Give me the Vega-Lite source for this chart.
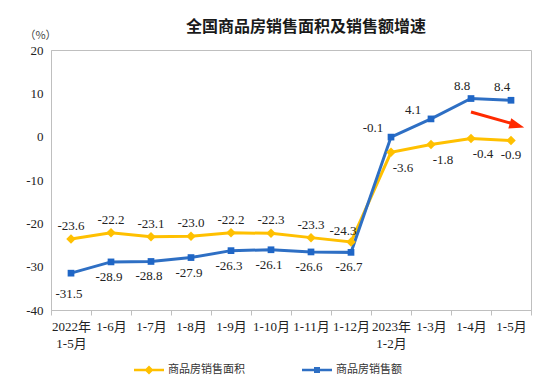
{
  "$schema": "https://vega.github.io/schema/vega-lite/v6.json",
  "width": 480,
  "height": 260,
  "autosize": {"type": "none"},
  "padding": {"left": 51, "top": 50, "right": 23, "bottom": 74},
  "background": "white",
  "title": {
    "text": "全国商品房销售面积及销售额增速",
    "font": "Noto Sans CJK SC",
    "fontSize": 16,
    "fontWeight": "bold",
    "color": "#1a1a1a",
    "anchor": "middle",
    "dx": 15,
    "dy": 14,
    "offset": 8
  },
  "config": {
    "locale": {"number": {"decimal": ".", "thousands": ",", "grouping": [3], "currency": ["", ""], "minus": "-"}},
    "view": {"stroke": "#BFBFBF", "strokeWidth": 1},
    "axis": {
      "domainColor": "#BFBFBF",
      "tickColor": "#BFBFBF",
      "grid": false,
      "labelFont": "Liberation Serif, Noto Sans CJK SC",
      "labelFontSize": 13,
      "labelColor": "#222222"
    },
    "legend": {
      "orient": "none",
      "legendX": 83,
      "legendY": 305,
      "direction": "horizontal",
      "padding": 0,
      "columnPadding": 57,
      "symbolOpacity": 1,
      "symbolSize": 900,
      "symbolStrokeWidth": 0,
      "labelFont": "Noto Sans CJK SC",
      "labelFontSize": 11,
      "labelColor": "#333333",
      "labelOffset": 4
    }
  },
  "datasets": {
    "main": [
      {"month": "2022年 1-5月", "series": "商品房销售面积", "value": -23.6},
      {"month": "1-6月", "series": "商品房销售面积", "value": -22.2},
      {"month": "1-7月", "series": "商品房销售面积", "value": -23.1},
      {"month": "1-8月", "series": "商品房销售面积", "value": -23.0},
      {"month": "1-9月", "series": "商品房销售面积", "value": -22.2},
      {"month": "1-10月", "series": "商品房销售面积", "value": -22.3},
      {"month": "1-11月", "series": "商品房销售面积", "value": -23.3},
      {"month": "1-12月", "series": "商品房销售面积", "value": -24.3},
      {"month": "2023年 1-2月", "series": "商品房销售面积", "value": -3.6},
      {"month": "1-3月", "series": "商品房销售面积", "value": -1.8},
      {"month": "1-4月", "series": "商品房销售面积", "value": -0.4},
      {"month": "1-5月", "series": "商品房销售面积", "value": -0.9},
      {"month": "2022年 1-5月", "series": "商品房销售额", "value": -31.5},
      {"month": "1-6月", "series": "商品房销售额", "value": -28.9},
      {"month": "1-7月", "series": "商品房销售额", "value": -28.8},
      {"month": "1-8月", "series": "商品房销售额", "value": -27.9},
      {"month": "1-9月", "series": "商品房销售额", "value": -26.3},
      {"month": "1-10月", "series": "商品房销售额", "value": -26.1},
      {"month": "1-11月", "series": "商品房销售额", "value": -26.6},
      {"month": "1-12月", "series": "商品房销售额", "value": -26.7},
      {"month": "2023年 1-2月", "series": "商品房销售额", "value": -0.1},
      {"month": "1-3月", "series": "商品房销售额", "value": 4.1},
      {"month": "1-4月", "series": "商品房销售额", "value": 8.8},
      {"month": "1-5月", "series": "商品房销售额", "value": 8.4}
    ],
    "arrow": [
      {"from": "1-4月", "to": "1-5月", "y1": 5.7, "y2": 3.1, "tip": 2.6}
    ]
  },
  "data": {"name": "main"},
  "encoding": {
    "x": {
      "field": "month",
      "type": "ordinal",
      "sort": null,
      "scale": {"type": "band", "paddingInner": 0, "paddingOuter": 0},
      "axis": {
        "title": null,
        "labelAngle": 0,
        "tickBand": "extent",
        "tickSize": 5,
        "labelPadding": 5,
        "labelLineHeight": 17,
        "labelExpr": "split(datum.label, ' ')"
      }
    },
    "y": {
      "field": "value",
      "type": "quantitative",
      "scale": {"domain": [-40, 20], "nice": false, "zero": false},
      "axis": {
        "values": [-40, -30, -20, -10, 0, 10, 20],
        "ticks": false,
        "labelPadding": 8,
        "title": "（%）",
        "titleAngle": 0,
        "titleX": -11,
        "titleY": -15,
        "titleAlign": "center",
        "titleBaseline": "middle",
        "titleFont": "Noto Sans CJK SC",
        "titleFontSize": 11,
        "titleFontWeight": "normal",
        "titleColor": "#444444"
      }
    }
  },
  "layer": [
    {
      "mark": {"type": "line", "strokeWidth": 3},
      "encoding": {
        "color": {
          "field": "series",
          "type": "nominal",
          "scale": {"domain": ["商品房销售面积", "商品房销售额"], "range": ["#FFC000", "#2E6FC4"]},
          "legend": {"title": null}
        }
      }
    },
    {
      "transform": [{"filter": "datum.series == '商品房销售面积'"}],
      "mark": {"type": "point", "shape": "diamond", "filled": true, "size": 90, "color": "#FFC000", "opacity": 1}
    },
    {
      "transform": [{"filter": "datum.series == '商品房销售额'"}],
      "mark": {"type": "point", "shape": "square", "filled": true, "size": 45, "color": "#1F66C6", "opacity": 1}
    },
    {
      "mark": {"type": "point", "filled": true, "opacity": 0, "size": 900},
      "encoding": {
        "shape": {
          "field": "series",
          "type": "nominal",
          "scale": {
            "domain": ["商品房销售面积", "商品房销售额"],
            "range": [
              "M-1,-0.09H1V0.09H-1Z M0,-0.3L0.3,0L0,0.3L-0.3,0Z",
              "M-1,-0.09H1V0.09H-1Z M-0.2,-0.2H0.2V0.2H-0.2Z"
            ]
          },
          "legend": {"title": null}
        },
        "color": {
          "field": "series",
          "type": "nominal",
          "legend": {"title": null}
        }
      }
    },
    {
      "transform": [{"filter": "datum.series == '商品房销售面积' && indexof(['2022年 1-5月','1-6月','1-7月','1-8月','1-9月','1-10月','1-11月'], datum.month) >= 0"}],
      "mark": {"type": "text", "dy": -13, "font": "Liberation Serif", "fontSize": 13, "color": "#222222", "baseline": "middle"},
      "encoding": {"text": {"field": "value", "type": "quantitative", "format": ".1f"}}
    },
    {
      "transform": [{"filter": "datum.series == '商品房销售面积' && datum.month == '1-12月'"}],
      "mark": {"type": "text", "dx": -8, "dy": -11, "font": "Liberation Serif", "fontSize": 13, "color": "#222222", "baseline": "middle"},
      "encoding": {"text": {"field": "value", "type": "quantitative", "format": ".1f"}}
    },
    {
      "transform": [{"filter": "datum.series == '商品房销售面积' && indexof(['2023年 1-2月','1-3月','1-4月'], datum.month) >= 0"}],
      "mark": {"type": "text", "dx": 12, "dy": 16, "font": "Liberation Serif", "fontSize": 13, "color": "#222222", "baseline": "middle"},
      "encoding": {"text": {"field": "value", "type": "quantitative", "format": ".1f"}}
    },
    {
      "transform": [{"filter": "datum.series == '商品房销售面积' && datum.month == '1-5月'"}],
      "mark": {"type": "text", "dx": 0, "dy": 14, "font": "Liberation Serif", "fontSize": 13, "color": "#222222", "baseline": "middle"},
      "encoding": {"text": {"field": "value", "type": "quantitative", "format": ".1f"}}
    },
    {
      "transform": [{"filter": "datum.series == '商品房销售额' && indexof(['1-6月','1-7月','1-8月','1-9月','1-10月','1-11月','1-12月'], datum.month) >= 0"}],
      "mark": {"type": "text", "dx": -2, "dy": 15, "font": "Liberation Serif", "fontSize": 13, "color": "#222222", "baseline": "middle"},
      "encoding": {"text": {"field": "value", "type": "quantitative", "format": ".1f"}}
    },
    {
      "transform": [{"filter": "datum.series == '商品房销售额' && datum.month == '2022年 1-5月'"}],
      "mark": {"type": "text", "dx": -2, "dy": 21, "font": "Liberation Serif", "fontSize": 13, "color": "#222222", "baseline": "middle"},
      "encoding": {"text": {"field": "value", "type": "quantitative", "format": ".1f"}}
    },
    {
      "transform": [{"filter": "datum.series == '商品房销售额' && indexof(['2023年 1-2月','1-3月'], datum.month) >= 0"}],
      "mark": {"type": "text", "dx": -18, "dy": -9, "font": "Liberation Serif", "fontSize": 13, "color": "#222222", "baseline": "middle"},
      "encoding": {"text": {"field": "value", "type": "quantitative", "format": ".1f"}}
    },
    {
      "transform": [{"filter": "datum.series == '商品房销售额' && indexof(['1-4月','1-5月'], datum.month) >= 0"}],
      "mark": {"type": "text", "dx": -9, "dy": -13, "font": "Liberation Serif", "fontSize": 13, "color": "#222222", "baseline": "middle"},
      "encoding": {"text": {"field": "value", "type": "quantitative", "format": ".1f"}}
    },
    {
      "data": {"name": "arrow"},
      "mark": {"type": "rule", "color": "#FF2A00", "strokeWidth": 3},
      "encoding": {
        "x": {"field": "from", "type": "ordinal"},
        "x2": {"field": "to"},
        "y": {"field": "y1", "type": "quantitative"},
        "y2": {"field": "y2"}
      }
    },
    {
      "data": {"name": "arrow"},
      "mark": {"type": "point", "filled": true, "color": "#FF2A00", "opacity": 1, "size": 225, "xOffset": 6, "angle": 16, "shape": "M-1,-0.7L1,0L-1,0.7Z"},
      "encoding": {
        "x": {"field": "to", "type": "ordinal"},
        "y": {"field": "tip", "type": "quantitative"}
      }
    }
  ]
}
